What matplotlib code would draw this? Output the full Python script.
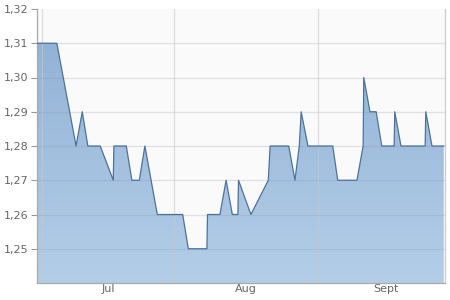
import numpy as np
import matplotlib
matplotlib.use("Agg")
import matplotlib.pyplot as plt
from matplotlib.colors import LinearSegmentedColormap

# trading-day positions (left edge = 0) and closing prices
DAYS = [0, 3.2, 6.3, 7.3, 8.2, 10.2, 12.3, 12.4, 14.4, 15.3, 16.5, 17.4,
        19.4, 23.5, 24.4, 27.4, 27.5, 29.5, 30.5, 31.5, 32.4, 32.5, 34.5,
        37.3, 37.6, 40.6, 41.6, 42.3, 42.6, 43.7, 47.7, 48.5, 51.6, 52.6,
        52.7, 53.7, 54.7, 55.6, 57.6, 57.7, 58.7, 62.6, 62.7, 63.7, 65.6]
PRICE = [1.31, 1.31, 1.28, 1.29, 1.28, 1.28, 1.27, 1.28, 1.28, 1.27, 1.27, 1.28,
         1.26, 1.26, 1.25, 1.25, 1.26, 1.26, 1.27, 1.26, 1.26, 1.27, 1.26,
         1.27, 1.28, 1.28, 1.27, 1.28, 1.29, 1.28, 1.28, 1.27, 1.27, 1.28,
         1.30, 1.29, 1.29, 1.28, 1.28, 1.29, 1.28, 1.28, 1.29, 1.28, 1.28]

MONTH_STARTS = [0.8, 22.1, 45.3]
MONTH_MIDS = [11.5, 33.7, 56.3]
MONTH_LABELS = ["Jul", "Aug", "Sept"]
Y_TICKS = [1.25, 1.26, 1.27, 1.28, 1.29, 1.30, 1.31, 1.32]

X_MAX = 65.8
Y_MIN, Y_MAX = 1.24, 1.32


def main():
    fig = plt.figure(figsize=(4.5, 3), dpi=100)
    ax = fig.add_axes([37 / 450, 17 / 300, 408 / 450, 274 / 300])
    ax.set_facecolor("#fafafa")

    x = np.array(DAYS)
    y = np.array(PRICE)

    # gradient fill under the line
    poly = ax.fill_between(x, y, Y_MIN, color="none", linewidth=0)
    cmap = LinearSegmentedColormap.from_list("blues", ["#b4cee8", "#93b3d6"])
    grad = np.linspace(0, 1, 256).reshape(-1, 1)
    im = ax.imshow(grad, cmap=cmap, aspect="auto", origin="lower",
                   extent=(0, X_MAX, Y_MIN, 1.31), zorder=1)
    path = poly.get_paths()[0]
    im.set_clip_path(path, transform=ax.transData)

    ax.plot(x, y, color="#4d729c", linewidth=0.9, zorder=3)

    ax.set_xlim(0, X_MAX)
    ax.set_ylim(Y_MIN, Y_MAX)

    for yv in Y_TICKS[:-1]:
        ax.axhline(yv, color="#8899aa", alpha=0.25, linewidth=0.9, zorder=2)
    for xv in MONTH_STARTS:
        ax.axvline(xv, color="#c8c8c8", alpha=0.6, linewidth=0.9, zorder=2)

    ax.set_yticks(Y_TICKS)
    ax.set_yticklabels([f"{v:.2f}".replace(".", ",") for v in Y_TICKS])
    ax.set_xticks(MONTH_MIDS)
    ax.set_xticklabels(MONTH_LABELS)
    ax.tick_params(axis="y", length=4, width=0.8, color="#999999",
                   labelsize=8, labelcolor="#666666", pad=2)
    ax.tick_params(axis="x", length=0, labelsize=8, labelcolor="#666666", pad=1)

    for side in ("top",):
        ax.spines[side].set_visible(False)
    for side in ("left", "bottom", "right"):
        ax.spines[side].set_color("#aaaaaa")
        ax.spines[side].set_linewidth(0.9)
    ax.spines["right"].set_color("#cccccc")

    fig.savefig("out.png", dpi=100, facecolor="white")


if __name__ == "__main__":
    main()
